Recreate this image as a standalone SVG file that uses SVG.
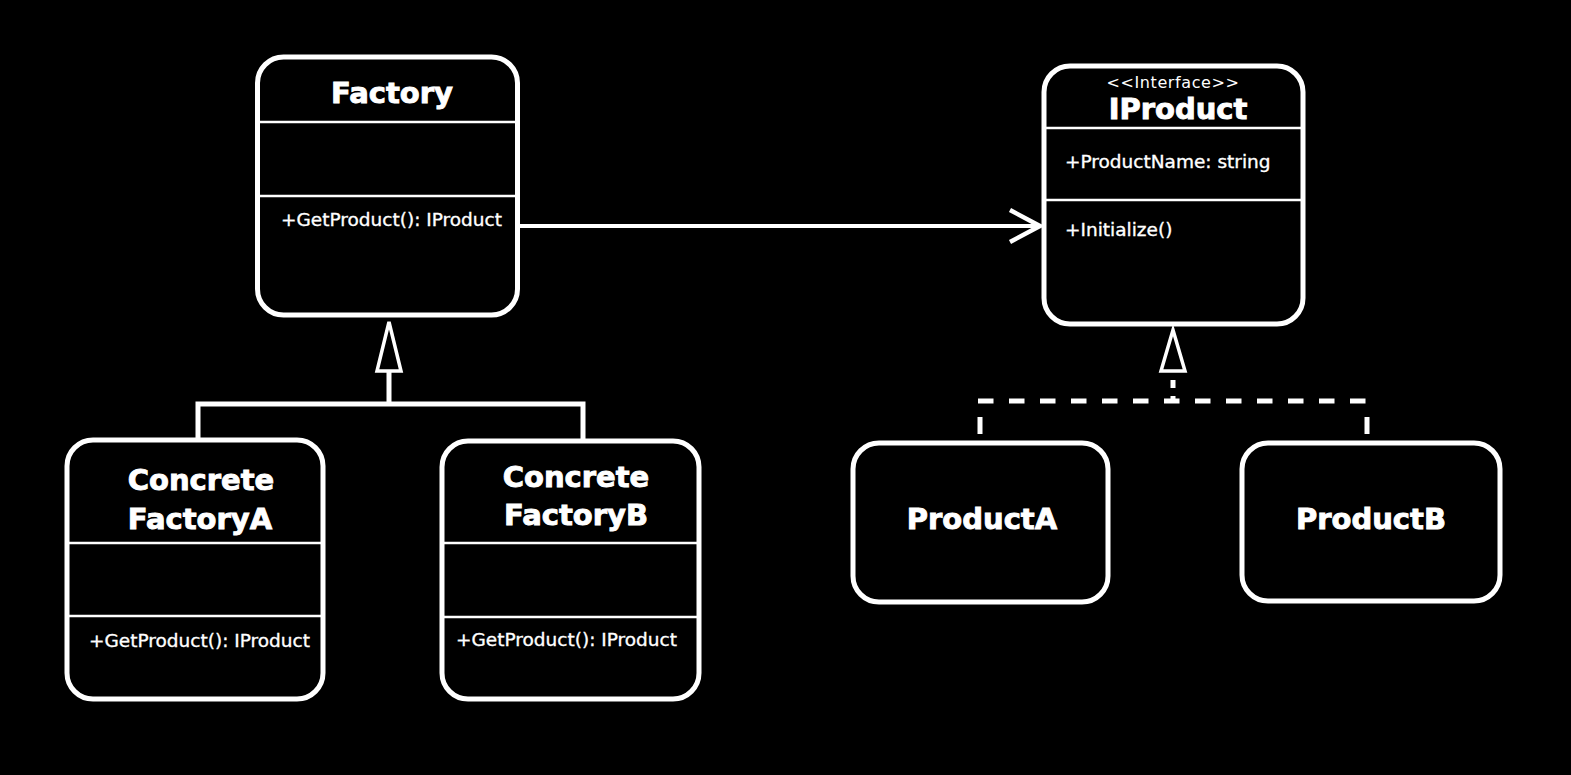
<svg xmlns="http://www.w3.org/2000/svg" width="1571" height="775" viewBox="0 0 1571 775">
<style>
.box{fill:#000;stroke:#fff;stroke-width:5}
.div{stroke:#fff;stroke-width:2.5}
.title{font-family:"DejaVu Sans",sans-serif;font-weight:bold;font-size:29px;fill:#fff;stroke:#fff;stroke-width:0.9;text-anchor:middle}
.mem{font-family:"DejaVu Sans",sans-serif;font-size:18.5px;fill:#fff;stroke:#fff;stroke-width:0.35}
.stereo{font-family:"DejaVu Sans",sans-serif;font-size:16px;fill:#fff;text-anchor:middle;letter-spacing:0.6px}
.ln{fill:none;stroke:#fff;stroke-width:5}
.dash{fill:none;stroke:#fff;stroke-width:5;stroke-dasharray:15.5 15.5}
.tri{fill:#000;stroke:#fff;stroke-width:3.5;stroke-linejoin:miter}
</style>
<rect width="1571" height="775" fill="#000"/>
<g id="connectors">
  <line x1="518" y1="226" x2="1040" y2="226" stroke="#fff" stroke-width="4"/>
  <polyline points="1010,210 1040,226 1010,242" fill="none" stroke="#fff" stroke-width="4.5"/>
  <polyline class="ln" points="198,440 198,404 583,404 583,440"/>
  <line class="ln" x1="389" y1="371" x2="389" y2="404"/>
  <polygon class="tri" points="389,322 377,371 401,371"/>
  <line class="dash" x1="978" y1="401" x2="1372" y2="401"/>
  <line class="ln" x1="980" y1="417" x2="980" y2="434"/>
  <line class="ln" x1="1367" y1="417" x2="1367" y2="434"/>
  <line class="ln" x1="1173" y1="380" x2="1173" y2="388"/>
  <line class="ln" x1="1173" y1="396" x2="1173" y2="401"/>
  <polygon class="tri" points="1173,330 1161,371 1185,371"/>
</g>
<g id="factory">
  <rect class="box" x="257.5" y="57" width="260" height="258" rx="26"/>
  <line class="div" x1="258" y1="122" x2="517" y2="122"/>
  <line class="div" x1="258" y1="196" x2="517" y2="196"/>
  <text class="title" x="392" y="103">Factory</text>
  <text class="mem" x="281" y="226">+GetProduct(): IProduct</text>
</g>
<g id="iproduct">
  <rect class="box" x="1044" y="66" width="259" height="258" rx="26"/>
  <line class="div" x1="1044" y1="128" x2="1303" y2="128"/>
  <line class="div" x1="1044" y1="200" x2="1303" y2="200"/>
  <text class="stereo" x="1173" y="88">&lt;&lt;Interface&gt;&gt;</text>
  <text class="title" x="1178" y="119">IProduct</text>
  <text class="mem" x="1065" y="168">+ProductName: string</text>
  <text class="mem" x="1065" y="236">+Initialize()</text>
</g>
<g id="concreteFactoryA">
  <rect class="box" x="67" y="440" width="256" height="259" rx="26"/>
  <line class="div" x1="67" y1="543" x2="323" y2="543"/>
  <line class="div" x1="67" y1="616" x2="323" y2="616"/>
  <text class="title" x="201" y="490">Concrete</text>
  <text class="title" x="200" y="529">FactoryA</text>
  <text class="mem" x="89" y="647">+GetProduct(): IProduct</text>
</g>
<g id="concreteFactoryB">
  <rect class="box" x="442" y="441" width="257" height="258" rx="26"/>
  <line class="div" x1="442" y1="543" x2="699" y2="543"/>
  <line class="div" x1="442" y1="617" x2="699" y2="617"/>
  <text class="title" x="576" y="487">Concrete</text>
  <text class="title" x="576" y="525">FactoryB</text>
  <text class="mem" x="456" y="646">+GetProduct(): IProduct</text>
</g>
<g id="productA">
  <rect class="box" x="853" y="443" width="255" height="159" rx="26"/>
  <text class="title" x="982" y="529">ProductA</text>
</g>
<g id="productB">
  <rect class="box" x="1242" y="443" width="258" height="158" rx="26"/>
  <text class="title" x="1371" y="529">ProductB</text>
</g>
</svg>
